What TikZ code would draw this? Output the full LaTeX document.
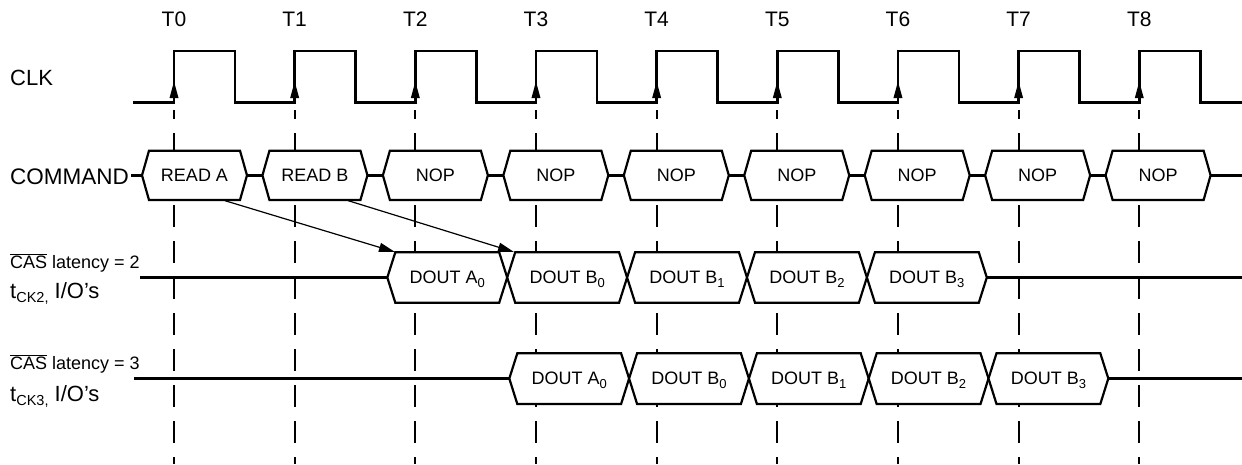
\documentclass[tikz,border=0pt]{standalone}
\usepackage{fontspec}
\setmainfont{Liberation Sans}
\usetikzlibrary{arrows.meta}
\newcommand\mysub[1]{\raisebox{-3.5pt}{\fontsize{13}{13}\selectfont #1}}
\newcommand\tsub[1]{\raisebox{-4pt}{\fontsize{14.5}{15}\selectfont #1}}
\begin{document}
\begin{tikzpicture}[x=1pt,y=-1pt,
  clk/.style={line width=2.8pt},
  sig/.style={line width=2.6pt},
  box/.style={line width=2.2pt,fill=white},
  dashline/.style={line width=2.2pt,dash pattern=on 22pt off 14pt,dash phase=13pt},
  lat/.style={line width=1.2pt,-{Triangle[length=16pt,width=9pt]}},
  boxtxt/.style={font=\fontsize{18}{20}\selectfont,inner sep=0pt,anchor=base},
  tlbl/.style={font=\fontsize{21}{24}\selectfont,inner sep=0pt,anchor=base},
  rowlbl/.style={font=\fontsize{22}{26}\selectfont,inner sep=0pt,anchor=base west},
  caslbl/.style={font=\fontsize{18}{20}\selectfont,inner sep=0pt,anchor=base west}]
\useasboundingbox (0,0) rectangle (1242,464);

% vertical dashed reference lines
\foreach \k in {0,...,8} {
  \draw[dashline] ({174+120.66*\k},110) -- ({174+120.66*\k},464);
}

% clock
\draw[clk] (133.3,102.7)
  foreach \k in {0,...,8} {
    -- ({174+120.66*\k},102.7) -- ({174+120.66*\k},51)
    -- ({235+120.66*\k},51) -- ({235+120.66*\k},102.7)
  } -- (1242,102.7);
\foreach \k in {0,...,8} {
  \fill ({174+120.66*\k},81.5) -- ({169.5+120.66*\k},98) -- ({178.5+120.66*\k},98) -- cycle;
  \node[tlbl] (t\k) at ({174+120.66*\k},26.7) {T\k};
}

% labels
\node[rowlbl] (clkl) at (10,85) {CLK};
\node[rowlbl,font=\fontsize{22.5}{26}\selectfont] (cmdl) at (10,184) {COMMAND};
\node[caslbl] (cas2) at (10,268.5) {$\overline{\hbox{CAS}}$ latency = 2};
\node[rowlbl] (tck2) at (10,298.5) {t\tsub{CK2,} I/O’s};
\node[caslbl] (cas3) at (10,369) {$\overline{\hbox{CAS}}$ latency = 3};
\node[rowlbl] (tck3) at (10,401) {t\tsub{CK3,} I/O’s};

% latency arrows
\coordinate (ra) at (225,200.7);
\coordinate (a0) at (395,252);
\coordinate (rb) at (348.3,200.7);
\coordinate (b0) at (514,252);
\draw[lat] (ra) -- (a0);
\draw[lat] (rb) -- (b0);

% command row
\draw[sig] (131,175.3) -- (142,175.3);
\foreach \j in {0,...,7} {
  \draw[sig] ({247+120.45*\j},175.3) -- ({142+120.45*(\j+1)},175.3);
}
\draw[sig] ({247+120.45*8},175.3) -- (1242,175.3);
\foreach \j/\txt in {0/READ A,1/READ B,2/NOP,3/NOP,4/NOP,5/NOP,6/NOP,7/NOP,8/NOP} {
  \pgfmathsetmacro\L{142+120.45*\j}
  \pgfmathsetmacro\R{\L+105}
  \draw[box] (\L,175.3) -- (\L+7,150.7) -- (\R-7,150.7) -- (\R,175.3) -- (\R-7,200) -- (\L+7,200) -- cycle;
  \node[boxtxt] (cmd\j) at ({(\L+\R)/2},181.5) {\txt};
}

% CAS latency = 2 row
\draw[sig] (140,277.5) -- (387.3,277.5);
\draw[sig] ({387.3+119.9*5},277.5) -- (1242,277.5);
\foreach \j/\txt in {0/{A\mysub{0}},1/{B\mysub{0}},2/{B\mysub{1}},3/{B\mysub{2}},4/{B\mysub{3}}} {
  \pgfmathsetmacro\L{387.3+119.9*\j}
  \pgfmathsetmacro\R{\L+119.9}
  \draw[box] (\L,277.5) -- (\L+8,252.3) -- (\R-8,252.3) -- (\R,277.5) -- (\R-8,302.7) -- (\L+8,302.7) -- cycle;
  \node[boxtxt] (da\j) at ({(\L+\R)/2},283.5) {DOUT \txt};
}

% CAS latency = 3 row
\draw[sig] (134,378.5) -- (509.3,378.5);
\draw[sig] ({509.3+119.8*5},378.5) -- (1242,378.5);
\foreach \j/\txt in {0/{A\mysub{0}},1/{B\mysub{0}},2/{B\mysub{1}},3/{B\mysub{2}},4/{B\mysub{3}}} {
  \pgfmathsetmacro\L{509.3+119.8*\j}
  \pgfmathsetmacro\R{\L+119.8}
  \draw[box] (\L,378.5) -- (\L+8,353.3) -- (\R-8,353.3) -- (\R,378.5) -- (\R-8,404) -- (\L+8,404) -- cycle;
  \node[boxtxt] (db\j) at ({(\L+\R)/2},384.8) {DOUT \txt};
}
\end{tikzpicture}
\end{document}
